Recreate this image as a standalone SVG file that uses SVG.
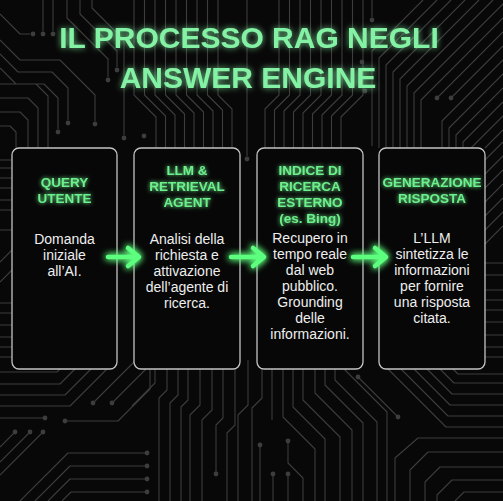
<svg xmlns="http://www.w3.org/2000/svg" width="503" height="501" viewBox="0 0 503 501">
<defs>
<style>
.bg{fill:#080808}
.c{fill:none;stroke:#3d3d3d;stroke-width:1.1;stroke-linejoin:round}
.d{fill:#3d3d3d}
.box{fill:#070707;stroke:#c4c4c4;stroke-width:1.3}
.title{font-family:"Liberation Sans",Arial,sans-serif;font-weight:bold;font-size:30px;fill:#84f2a4;text-anchor:middle}
.hd{font-family:"Liberation Sans",Arial,sans-serif;font-weight:bold;font-size:13.5px;fill:#6cf08c;text-anchor:middle}
.tx{font-family:"Liberation Sans",Arial,sans-serif;font-size:14px;fill:#eeeeee;text-anchor:middle}
.arr{fill:none;stroke:#5dff7e;stroke-width:4.5;stroke-linecap:round;stroke-linejoin:round}
</style>
<filter id="glow" x="-20%" y="-50%" width="140%" height="200%">
<feGaussianBlur in="SourceGraphic" stdDeviation="3" result="b"/>
<feComponentTransfer in="b" result="b2"><feFuncA type="linear" slope="0.8"/></feComponentTransfer>
<feMerge><feMergeNode in="b2"/><feMergeNode in="SourceGraphic"/></feMerge>
</filter>
<filter id="glowS" x="-20%" y="-50%" width="140%" height="200%">
<feGaussianBlur in="SourceGraphic" stdDeviation="2" result="b"/>
<feMerge><feMergeNode in="b"/><feMergeNode in="SourceGraphic"/></feMerge>
</filter>
<filter id="glowA" x="-50%" y="-100%" width="200%" height="300%">
<feGaussianBlur in="SourceGraphic" stdDeviation="3.5" result="b"/>
<feMerge><feMergeNode in="b"/><feMergeNode in="b"/><feMergeNode in="SourceGraphic"/></feMerge>
</filter>
</defs>
<rect class="bg" x="0" y="0" width="503" height="501"/>
<g id="circuit">
<path class="c" d="M0,14 L20,34 H30 M43,0 V31 M53,0 V31 M67,0 V18 L108,59 V77 M80,0 V14 L117,51 V67 M92,0 V8 L124,40 V135"/>
<path class="c" d="M0,40 L20,60 H60 L95,95 V121 M0,54 L18,72 H52 L68,88 V120 M0,68 L16,84 H44 L58,98 V129 M0,84 H36 L48,96 V148 M0,98 H28 L38,108 V148 M0,112 H20 L28,120 V148 M0,126 H10 L16,132 V148"/>
<g class="d"><circle cx="33" cy="34" r="2.4"/><circle cx="43" cy="34" r="2.4"/><circle cx="53" cy="34" r="2.4"/><circle cx="108" cy="80" r="2.4"/><circle cx="117" cy="70" r="2.4"/><circle cx="124" cy="138" r="2.4"/><circle cx="95" cy="124" r="2.4"/><circle cx="68" cy="123" r="2.4"/><circle cx="58" cy="132" r="2.4"/><circle cx="144" cy="136" r="2.4"/></g>
<path class="c" d="M134,0 V95 L156,117 V150 M144.5,0 V95 L165.5,116 V150 M155,0 V95 L175,115 V150 M165.5,0 V95 L184.5,114 V150 M176,0 V95 L194,113 V150 M186.5,0 V95 L203.5,112 V150 M197,0 V95 L213,111 V150 M207.5,0 V95 L222.5,110 V150 M218,0 V95 L232,109 V150"/>
<path class="c" d="M363,0 V95 L341,117 V150 M352.5,0 V95 L331.5,116 V150 M342,0 V95 L322,115 V150 M331.5,0 V95 L312.5,114 V150 M321,0 V95 L303,113 V150 M310.5,0 V95 L293.5,112 V150 M300,0 V95 L284,111 V150 M289.5,0 V95 L274.5,110 V150 M279,0 V95 L265,109 V150"/>
<path class="c" d="M247,0 V156"/>
<circle class="d" cx="247" cy="159" r="2.4"/>
<path class="c" d="M372,0 V17 M423,0 L372,51 V146 M437,0 L379,58 V148 M451,0 L386,65 V148 M465,0 L393,72 V148 M479,0 L400,79 V148 M493,0 L407,86 V148 M503,4 L414,93 V148 M503,18 L421,100 V148 M503,32 L437,98 M503,46 L451,98 M503,60 L442,121 V148 M503,74 L449,128 V148 M503,88 L456,135 V148 M503,102 L463,142 V148 M503,116 L471,148 M503,130 L485,148"/>
<g class="d"><circle cx="372" cy="20" r="2.4"/><circle cx="437" cy="98" r="2.4"/><circle cx="451" cy="98" r="2.4"/><circle cx="362" cy="62" r="2.4"/><circle cx="365" cy="91" r="2.4"/></g>
<path class="c" d="M0,160 H14 M0,168 H14 M0,178 H14 M0,188 H14 M0,200 H14 M0,210 H14 M0,230 H14 M0,262 L14,248 M0,282 L14,268 M0,303 H14 M0,313 H14 M0,325 H14 M0,337 H14 M0,347 H14 M0,357 H14"/>
<path class="c" d="M483,162 L503,142 M483,176 L503,156 M483,190 L503,170 M483,204 L503,184 M483,218 L503,198 M483,232 L503,212 M483,246 L503,226 M483,263 H503 M483,275 H503 M483,290 H503 M483,300 H503 M483,310 H503 M483,322 H503 M483,335 H503 M483,347 H503 M483,357 H503"/>
<path class="c" d="M0,372 H57 L72,357 M0,384 H60 L86,358 M0,395 H65 L100,360 M0,406 H70 L116,360 M93,403 L136,360 M112,403 L146,369 V360 M0,418 H43 M67,421 H118 L150,389 V366"/>
<path class="c" d="M15,432 L0,447 M30,432 L0,462 M43,432 L0,475 M20,501 L68,453 H145 M35,501 L70,466 H145 M48,501 L70,479 H145 M62,501 L71,492 H145"/>
<g class="d"><circle cx="93" cy="403" r="2.4"/><circle cx="112" cy="403" r="2.4"/><circle cx="45" cy="418" r="2.4"/><circle cx="65" cy="421" r="2.4"/><circle cx="15" cy="432" r="2.4"/><circle cx="30" cy="432" r="2.4"/><circle cx="43" cy="432" r="2.4"/><circle cx="147" cy="453" r="2.4"/><circle cx="147" cy="466" r="2.4"/><circle cx="147" cy="479" r="2.4"/><circle cx="147" cy="492" r="2.4"/></g>
<path class="c" d="M155,366 V383 L132,406 M167,366 V390 L159,398 V501 M178,366 V395 L170,403 V501 M188,366 V400 L181,407 V501 M200,366 V405 L190,415 V501 M212,366 V410 L202,420 V501 M223,366 V418 L216,425 V472 M235,366 V425 L227,433 V501 M248,360 V405 L238,415 V501"/>
<path class="c" d="M262,366 V398 L252,408 V501 M272,366 V420 M283,366 V417 L315,449 V501 M293,366 V407 L325,439 V501 M303,366 V400 L340,437 V501 M315,366 V393 L352,430 V501 M325,366 V385 L363,423 V501 M335,366 V380 L377,422 V501 M345,366 V370 L387,412 V501 M260,447 V501 M288,441 V463 L303,478 V501 M273,476 V501 M288,476 V501"/>
<g class="d"><circle cx="216" cy="474" r="2.4"/><circle cx="260" cy="445" r="2.4"/><circle cx="288" cy="441" r="2.4"/><circle cx="273" cy="474" r="2.4"/><circle cx="288" cy="474" r="2.4"/></g>
<path class="c" d="M385,366 L446,427 H503 M398,366 L448,416 H503 M411,366 L450,405 H503 M424,366 L452,394 H503 M437,366 L454,383 H503 M450,366 L458,374 H503 M358,377 L398,417"/>
<path class="c" d="M395,501 V458 L418,438 H503 M410,501 V470 L428,452 H503 M425,501 V482 L440,467 H503 M437,501 V495 L452,480 H503 M455,501 L464,492 H503"/>
<g class="d"><circle cx="358" cy="377" r="2.4"/><circle cx="398" cy="417" r="2.4"/></g>
</g>
<g id="title" filter="url(#glow)">
<text class="title" x="249" y="48">IL PROCESSO RAG NEGLI</text>
<text class="title" x="248" y="88">ANSWER ENGINE</text>
</g>
<g id="node1">
<rect class="box" x="12" y="148" width="105" height="221" rx="7"/>
<g filter="url(#glowS)"><text class="hd" x="64.5" y="187">QUERY</text><text class="hd" x="64.5" y="203">UTENTE</text></g>
<text class="tx" x="64.5" y="244">Domanda</text>
<text class="tx" x="64.5" y="260">iniziale</text>
<text class="tx" x="64.5" y="276">all’AI.</text>
</g>
<g id="node2">
<rect class="box" x="134" y="148" width="106" height="221" rx="7"/>
<g filter="url(#glowS)"><text class="hd" x="187" y="175">LLM &amp;</text><text class="hd" x="187" y="191">RETRIEVAL</text><text class="hd" x="187" y="207">AGENT</text></g>
<text class="tx" x="187" y="244">Analisi della</text>
<text class="tx" x="187" y="260">richiesta e</text>
<text class="tx" x="187" y="276">attivazione</text>
<text class="tx" x="187" y="292">dell’agente di</text>
<text class="tx" x="187" y="308">ricerca.</text>
</g>
<g id="node3">
<rect class="box" x="257" y="148" width="106" height="221" rx="7"/>
<g filter="url(#glowS)"><text class="hd" x="310" y="175">INDICE DI</text><text class="hd" x="310" y="191">RICERCA</text><text class="hd" x="310" y="207">ESTERNO</text><text class="hd" x="310" y="223">(es. Bing)</text></g>
<text class="tx" x="310" y="243">Recupero in</text>
<text class="tx" x="310" y="259">tempo reale</text>
<text class="tx" x="310" y="275">dal web</text>
<text class="tx" x="310" y="291">pubblico.</text>
<text class="tx" x="310" y="307">Grounding</text>
<text class="tx" x="310" y="323">delle</text>
<text class="tx" x="310" y="339">informazioni.</text>
</g>
<g id="node4">
<rect class="box" x="379" y="148" width="106" height="221" rx="7"/>
<g filter="url(#glowS)"><text class="hd" x="432" y="187">GENERAZIONE</text><text class="hd" x="432" y="203">RISPOSTA</text></g>
<text class="tx" x="432" y="243">L’LLM</text>
<text class="tx" x="432" y="259">sintetizza le</text>
<text class="tx" x="432" y="275">informazioni</text>
<text class="tx" x="432" y="291">per fornire</text>
<text class="tx" x="432" y="307">una risposta</text>
<text class="tx" x="432" y="323">citata.</text>
</g>
<g id="connectors" filter="url(#glowA)">
<path class="arr" d="M108,257 H137 M128,248 L139,257 L128,266"/>
<path class="arr" d="M231,257 H262 M253,248 L264,257 L253,266"/>
<path class="arr" d="M353,257 H384 M375,248 L386,257 L375,266"/>
</g>
</svg>
